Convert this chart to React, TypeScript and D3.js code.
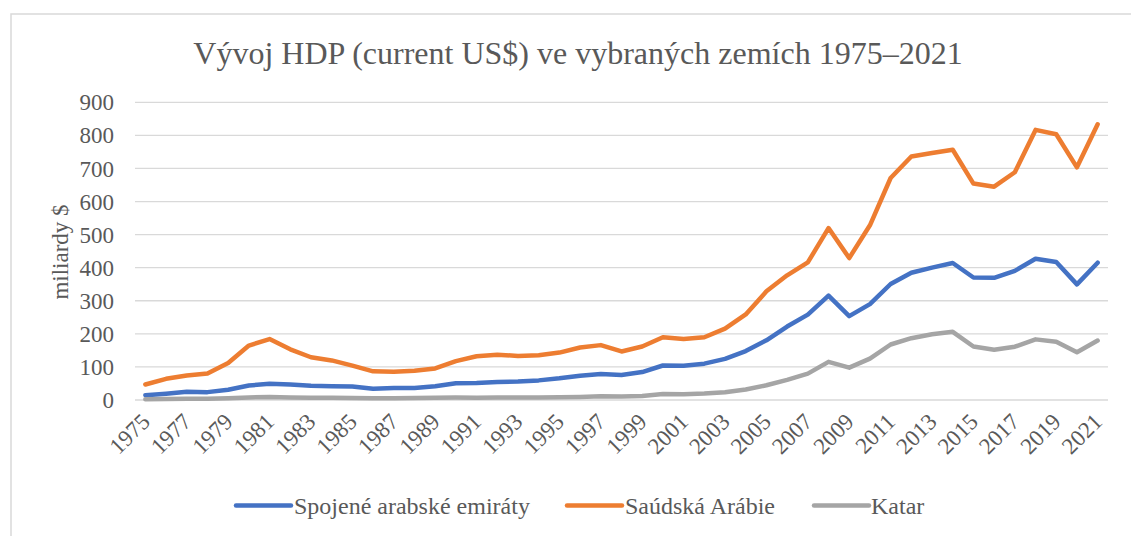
import React from "react";
import * as d3 from "d3";

const years: number[] = d3.range(1975, 2022);

const uae: number[] = [
  14.7, 19.2, 24.9, 23.8, 31.2, 43.6, 49.3, 46.6, 42.8, 41.8,
  40.6, 33.9, 36.3, 36.3, 41.5, 50.7, 51.6, 54.2, 55.6, 59.3,
  65.7, 73.6, 78.8, 75.7, 84.4, 104.3, 103.3, 109.8, 124.3, 147.8,
  180.6, 222.1, 258.0, 315.5, 253.5, 289.8, 350.7, 384.6, 400.2, 414.1,
  370.3, 369.3, 390.5, 427.0, 417.2, 349.5, 415.0,
];

const saudi: number[] = [
  46.8, 64.0, 74.2, 80.3, 111.9, 164.5, 184.3, 153.2, 129.2, 119.6,
  103.9, 86.7, 85.7, 88.3, 95.3, 117.6, 132.2, 137.1, 132.9, 135.2,
  143.3, 158.7, 165.9, 146.8, 161.7, 189.5, 184.1, 189.6, 215.8, 258.7,
  328.5, 376.9, 415.9, 519.8, 429.1, 528.2, 671.2, 736.0, 746.6, 756.4,
  654.3, 644.9, 688.6, 816.6, 803.6, 703.4, 833.5,
];

const qatar: number[] = [
  2.5, 3.1, 3.6, 4.1, 5.6, 7.8, 8.7, 7.6, 6.5, 6.5,
  6.2, 5.0, 5.4, 6.0, 6.5, 7.4, 7.0, 7.6, 7.2, 7.4,
  8.1, 9.1, 11.3, 10.3, 12.4, 17.8, 17.5, 19.4, 23.5, 31.7,
  44.5, 60.9, 79.7, 115.3, 97.8, 125.1, 167.8, 186.8, 198.7, 206.2,
  161.7, 151.7, 161.1, 183.3, 176.4, 144.4, 179.7,
];

const seriesNames: string[] = ["Spojené arabské emiráty", "Saúdská Arábie", "Katar"];
const seriesColors: string[] = ["#4472C4", "#ED7D31", "#A5A5A5"];
const yTicks: number[] = [0, 100, 200, 300, 400, 500, 600, 700, 800, 900];
const xLabelYears: number[] = years.filter((y) => (y - 1975) % 2 === 0);

const titleText = "Vývoj HDP (current US$) ve vybraných zemích 1975–2021";
const yAxisTitle = "miliardy $";

export default function App() {
  const W = 1131;
  const H = 536;
  const left = 135;
  const right = 1108;
  const top = 102.3;
  const bottom = 400;
  const font = "Liberation Serif, DejaVu Serif, Times New Roman, serif";
  const textColor = "#595959";

  const x = d3
    .scaleBand<number>()
    .domain(years)
    .range([left, right])
    .paddingInner(0)
    .paddingOuter(0);
  const cx = (yr: number) => (x(yr) as number) + x.bandwidth() / 2;
  const y = d3.scaleLinear().domain([0, 900]).range([bottom, top]);

  const line = d3
    .line<number>()
    .x((_, i) => cx(years[i]))
    .y((d) => y(d));

  const data = [uae, saudi, qatar];

  const legendItems = [
    { lx: 236, tx: 294 },
    { lx: 567, tx: 625 },
    { lx: 814, tx: 871 },
  ];

  return (
    <svg
      width={W}
      height={H}
      style={{ position: "absolute", left: 0, top: 0, background: "#fff", fontFamily: font }}
    >
      <rect x={0} y={0} width={W} height={H} fill="#fff" />
      <rect x={11} y={14} width={W + 10} height={H + 10} fill="#fff" stroke="#d9d9d9" strokeWidth={1.5} />
      <text
        x={578}
        y={64}
        textAnchor="middle"
        fontSize={32}
        fill={textColor}
        style={{ fontFamily: font }}
      >
        {titleText}
      </text>
      {yTicks.map((t) => (
        <g key={t}>
          <line x1={left} x2={right} y1={y(t)} y2={y(t)} stroke="#d9d9d9" strokeWidth={1.3} />
          <text
            x={114}
            y={y(t)}
            dy="0.35em"
            textAnchor="end"
            fontSize={23}
            fill={textColor}
            style={{ fontFamily: font }}
          >
            {t}
          </text>
        </g>
      ))}
      <text
        transform={`translate(68, 252) rotate(-90)`}
        textAnchor="middle"
        fontSize={23}
        fill={textColor}
        style={{ fontFamily: font }}
      >
        {yAxisTitle}
      </text>
      {xLabelYears.map((yr) => (
        <text
          key={yr}
          transform={`translate(${cx(yr) + 6}, 423) rotate(-45)`}
          textAnchor="end"
          fontSize={23}
          fill={textColor}
          style={{ fontFamily: font }}
        >
          {yr}
        </text>
      ))}
      {data.map((d, i) => (
        <path
          key={i}
          d={line(d) as string}
          fill="none"
          stroke={seriesColors[i]}
          strokeWidth={4.5}
          strokeLinejoin="round"
          strokeLinecap="round"
        />
      ))}
      {legendItems.map((it, i) => (
        <g key={i}>
          <line
            x1={it.lx}
            x2={it.lx + 55}
            y1={505.5}
            y2={505.5}
            stroke={seriesColors[i]}
            strokeWidth={4.5}
            strokeLinecap="round"
          />
          <text x={it.tx} y={505.5} dy="0.35em" fontSize={24} fill={textColor} style={{ fontFamily: font }}>
            {seriesNames[i]}
          </text>
        </g>
      ))}
    </svg>
  );
}
